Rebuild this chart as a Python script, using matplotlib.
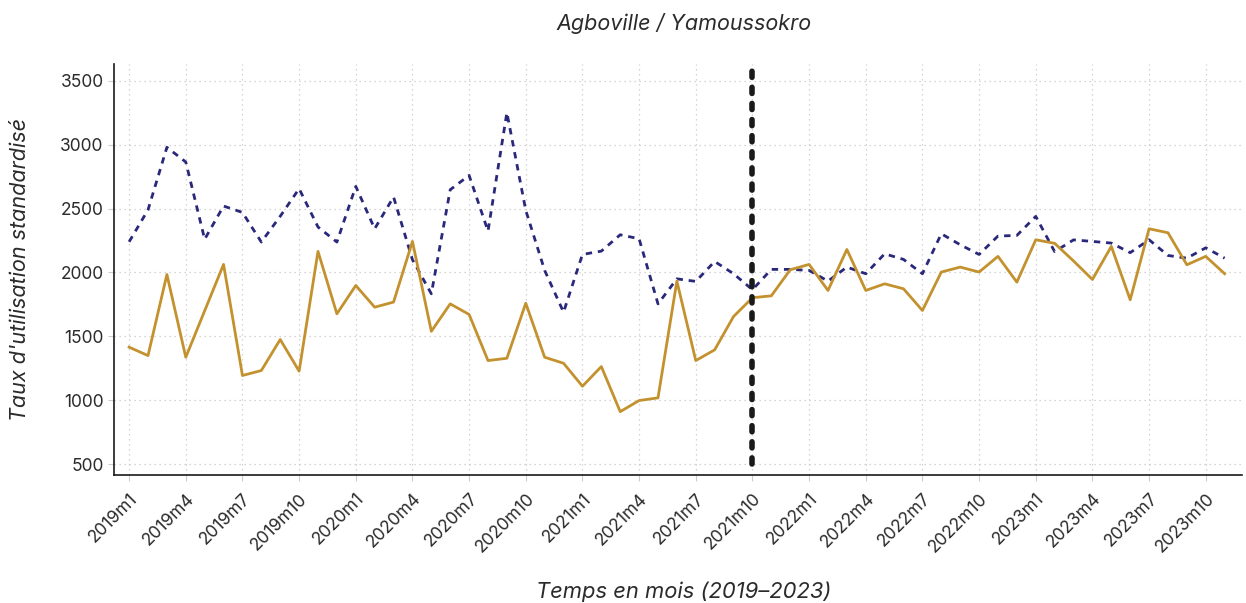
import numpy as np
import matplotlib
matplotlib.use("Agg")
import matplotlib.pyplot as plt

plt.rcParams['font.family'] = ['Inter', 'DejaVu Sans']

# months 2019m1 .. 2023m11
months = [f"{y}m{m}" for y in range(2019, 2024) for m in range(1, 13)][:59]

agboville = [2240, 2490, 2980, 2865, 2260, 2520, 2470, 2238, 2440, 2656,
             2356, 2238, 2674, 2342, 2591, 2100, 1833, 2648, 2760, 2324,
             3252, 2486, 2016, 1689, 2141, 2167, 2295, 2264, 1754, 1950,
             1930, 2086, 1990, 1865, 2024, 2024, 2016, 1932, 2042, 1990,
             2146, 2102, 1990, 2303, 2217, 2141, 2285, 2290, 2439, 2163,
             2255, 2243, 2230, 2155, 2256, 2133, 2112, 2193, 2112]

yamoussokro = [1415, 1349, 1984, 1336, 1700, 2063, 1193, 1232, 1475, 1227,
               2165, 1676, 1898, 1728, 1768, 2243, 1539, 1754, 1671, 1310,
               1328, 1759, 1336, 1289, 1109, 1263, 910, 997, 1018, 1932,
               1310, 1394, 1655, 1802, 1817, 2021, 2063, 1859, 2180, 1859,
               1911, 1872, 1702, 2003, 2042, 2003, 2126, 1924, 2256, 2228,
               2090, 1945, 2204, 1786, 2342, 2311, 2060, 2126, 1990]

intervention = "2021m10"

x = np.arange(len(months))

fig = plt.figure(figsize=(12.46, 6.03), dpi=100)
ax = fig.add_axes([0.0915, 0.2123, 0.905, 0.6817])

ax.plot(x, agboville, color='#29287a', lw=2, linestyle=(0, (2.3, 2.1)))
ax.plot(x, yamoussokro, color='#c3922e', lw=2)

xi = months.index(intervention)
ax.vlines(xi, 500, 3645, color='#1a1a1a', lw=4, linestyles=[(0, (1.1, 1.8))],
          capstyle='round', clip_on=False)

ax.set_xlim(-0.8, 58.9)
ax.set_ylim(414, 3633)
ax.set_yticks(np.arange(500, 3501, 500))
ax.set_xticks(x[::3])
ax.set_xticklabels(months[::3], rotation=45, ha='right', rotation_mode='anchor')

ax.grid(True, linestyle=(0, (1, 3)), color='#c8c8c8', lw=0.9)
ax.tick_params(axis='both', labelsize=12.5, colors='#2b2b2b', length=4)
ax.tick_params(axis='x', pad=7)
ax.tick_params(axis='both', color='#cccccc')
for s in ['top', 'right']:
    ax.spines[s].set_visible(False)
for s in ['left', 'bottom']:
    ax.spines[s].set_color('#1a1a1a')
    ax.spines[s].set_linewidth(1.2)

fig.text(684 / 1246, 1 - 24 / 603, "Agboville / Yamoussokro", ha='center',
         va='center', fontsize=15.5, style='italic', color='#2b2b2b')
fig.text(684 / 1246, 1 - 592 / 603, "Temps en mois (2019–2023)", ha='center',
         va='center', fontsize=15.8, style='italic', color='#2b2b2b')
fig.text(20 / 1246, 1 - 269 / 603, "Taux d'utilisation standardisé", ha='center',
         va='center', fontsize=15.5, style='italic', rotation=90, color='#2b2b2b')

fig.savefig("out.png", dpi=100)
